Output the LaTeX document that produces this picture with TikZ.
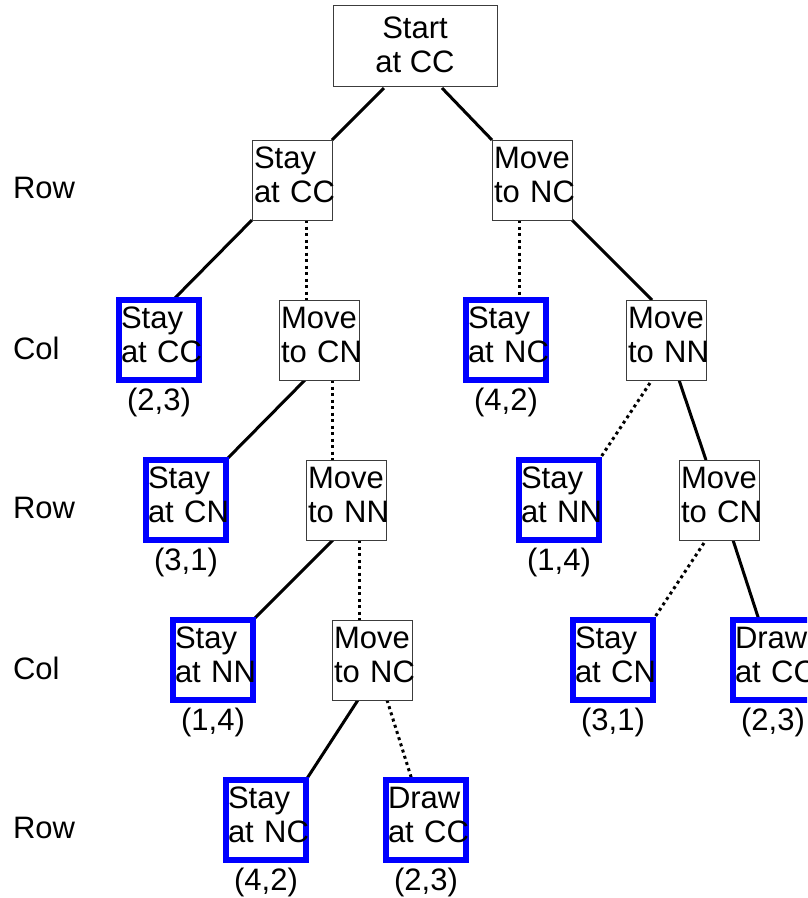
\documentclass[tikz,border=0pt]{standalone}
\usepackage{fontspec}
\setmainfont{Liberation Sans}
\usetikzlibrary{backgrounds}
\definecolor{leafblue}{RGB}{0,0,255}
\definecolor{boxgray}{RGB}{60,60,60}

\begin{document}
\begin{tikzpicture}[x=1pt,y=-1pt,
    every node/.style={inner sep=0pt,outer sep=0pt,font=\fontsize{31}{34}\selectfont},
    move/.style={draw=boxgray,line width=1pt,fill=white,minimum width=80pt,minimum height=80pt,
        inner xsep=2pt,text width=76pt,align=left,text depth=44pt},
    leaf/.style={move,draw=leafblue,line width=6pt,label={[label distance=8pt]below:#1}},
    took/.style={line width=3pt},
    passed/.style={line width=3pt,dash pattern=on 3pt off 3.5pt}]
    \useasboundingbox (0,0) rectangle (807,898);
    \clip (0,0) rectangle (807,898);

    % whose turn it is
    \node[anchor=west] (turn1) at (13,188) {Row};
    \node[anchor=west] (turn2) at (13,348) {Col};
    \node[anchor=west] (turn3) at (13,508) {Row};
    \node[anchor=west] (turn4) at (13,668) {Col};
    \node[anchor=west] (turn5) at (13,828) {Row};

    \node[draw=boxgray,line width=1pt,minimum width=164pt,minimum height=81pt,align=center,text depth=2pt] (start) at (415,45.5) {Start\\at~CC};

    \node[move] (stayA) at (292,180) {Stay\\at~CC};
    \node[move] (moveA) at (532,180) {Move\\to~NC};

    \node[leaf={(2,3)}] (endB1) at (159,340) {Stay\\at~CC};
    \node[move] (moveB1) at (319,340) {Move\\to~CN};
    \node[leaf={(4,2)}] (endB2) at (506,340) {Stay\\at~NC};
    \node[move] (moveB2) at (666,340) {Move\\to~NN};

    \node[leaf={(3,1)}] (endC1) at (186,500) {Stay\\at~CN};
    \node[move] (moveC1) at (346,500) {Move\\to~NN};
    \node[leaf={(1,4)}] (endC2) at (559,500) {Stay\\at~NN};
    \node[move] (moveC2) at (719,500) {Move\\to~CN};

    \node[leaf={(1,4)}] (endD1) at (213,660) {Stay\\at~NN};
    \node[move] (moveD1) at (372,660) {Move\\to~NC};
    \node[leaf={(3,1)}] (endD2) at (613,660) {Stay\\at~CN};
    \node[leaf={(2,3)}] (drawD2) at (773,660) {Draw\\at~CC};

    \node[leaf={(4,2)}] (endE1) at (266,820) {Stay\\at~NC};
    \node[leaf={(2,3)}] (drawE1) at (426,820) {Draw\\at~CC};

    \begin{scope}[on background layer]
        \draw[took] ([xshift=-31pt,yshift=-2pt]start.south) -- (stayA.north east);
        \draw[took] ([xshift=27pt,yshift=-2pt]start.south) -- (moveA.north west);

        \draw[took] (stayA.south west) -- ([xshift=14pt]endB1.north);
        \draw[passed] ([xshift=14pt]stayA.south) -- ([xshift=-13pt]moveB1.north);
        \draw[passed] ([xshift=-13pt]moveA.south) -- ([xshift=13pt]endB2.north);
        \draw[took] (moveA.south east) -- ([xshift=-14pt]moveB2.north);

        \draw[took] ([xshift=-14pt]moveB1.south) -- (endC1.north east);
        \draw[passed] ([xshift=13pt]moveB1.south) -- ([xshift=-14pt]moveC1.north);
        \draw[passed] ([xshift=-16pt,yshift=-3pt]moveB2.south) -- (endC2.north east);
        \draw[took] ([xshift=13pt]moveB2.south) -- ([xshift=-13pt]moveC2.north);

        \draw[took] ([xshift=-13pt]moveC1.south) -- (endD1.north east);
        \draw[passed] ([xshift=13pt]moveC1.south) -- ([xshift=-13pt]moveD1.north);
        \draw[passed] ([xshift=-15pt,yshift=-3pt]moveC2.south) -- (endD2.north east);
        \draw[took] ([xshift=14pt]moveC2.south) -- ([xshift=-14pt]drawD2.north);

        \draw[took] ([xshift=-14pt]moveD1.south) -- (endE1.north east);
        \draw[passed] ([xshift=15pt]moveD1.south) -- ([xshift=-14pt]drawE1.north);
    \end{scope}
\end{tikzpicture}
\end{document}
